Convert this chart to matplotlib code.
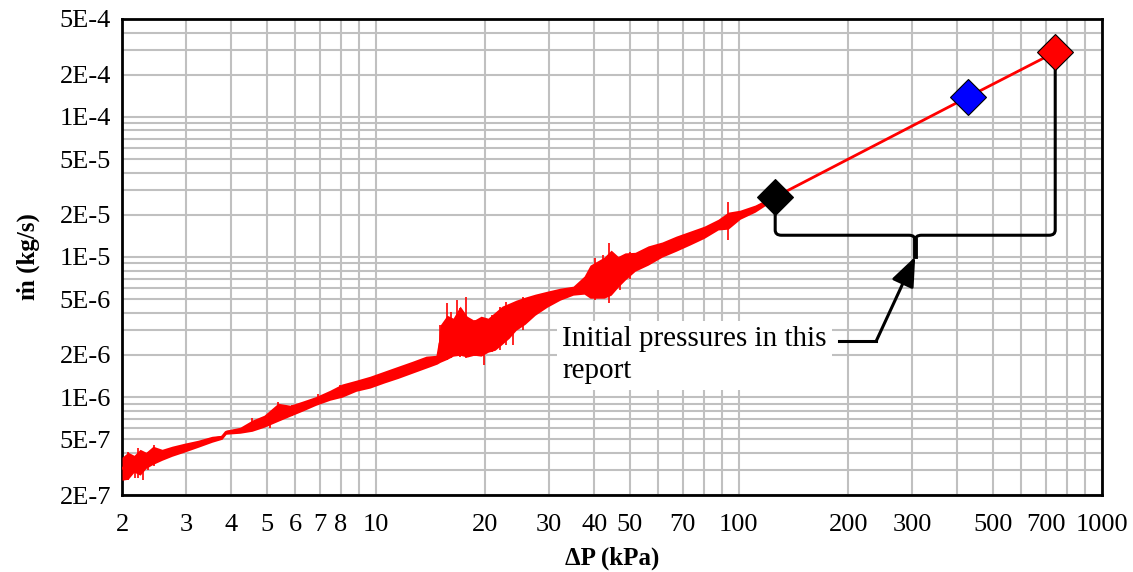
import numpy as np
import matplotlib
matplotlib.use('Agg')
import matplotlib.pyplot as plt
from matplotlib.ticker import LogLocator, NullFormatter
from matplotlib.path import Path
from matplotlib.patches import PathPatch

plt.rcParams['font.family'] = ['Liberation Serif', 'DejaVu Serif']

# pressure drop (kPa) along the measured trace
dp = [2.000, 2.078, 2.159, 2.243, 2.329, 2.435, 2.578, 2.746, 2.964, 3.239,
      3.539, 3.771, 3.868, 4.227, 4.562, 4.923, 5.380, 5.805, 6.266, 6.846,
      7.482, 8.075, 8.825, 9.643, 10.54, 11.52, 12.59, 13.76, 14.75, 15.03,
      15.72, 16.33, 17.07, 17.84, 18.65, 19.50, 20.38, 21.31, 22.28, 23.29,
      24.35, 25.78, 27.47, 29.64, 32.19, 34.96, 37.48, 38.93, 40.70, 42.55,
      44.48, 46.49, 48.60, 51.80, 56.24, 61.47, 67.20, 73.45, 80.28, 87.69,
      93.43, 100.8, 110.9, 125.9]
# mass flow rate (kg/s): mean trace and the upper/lower edge of the noise
mdot = [3.10e-7, 3.21e-7, 3.37e-7, 3.48e-7, 3.60e-7, 3.72e-7, 3.91e-7, 4.11e-7, 4.38e-7, 4.68e-7,
        5.00e-7, 5.17e-7, 5.61e-7, 5.80e-7, 6.19e-7, 6.72e-7, 7.30e-7, 7.92e-7, 8.61e-7, 9.34e-7,
        1.01e-6, 1.10e-6, 1.20e-6, 1.28e-6, 1.39e-6, 1.48e-6, 1.61e-6, 1.75e-6, 1.83e-6, 2.42e-6,
        2.59e-6, 2.72e-6, 2.86e-6, 2.72e-6, 2.77e-6, 2.81e-6, 2.86e-6, 3.00e-6, 3.21e-6, 3.54e-6,
        3.78e-6, 4.17e-6, 4.53e-6, 5.00e-6, 5.43e-6, 5.80e-6, 6.19e-6, 6.61e-6, 6.95e-6, 7.30e-6,
        7.67e-6, 8.19e-6, 8.61e-6, 9.34e-6, 1.01e-5, 1.12e-5, 1.24e-5, 1.36e-5, 1.51e-5, 1.69e-5,
        1.80e-5, 1.99e-5, 2.23e-5, 2.68e-5]
mdot_hi = [3.72e-7, 4.04e-7, 3.84e-7, 4.24e-7, 4.04e-7, 4.46e-7, 4.24e-7, 4.46e-7, 4.68e-7, 4.92e-7,
           5.25e-7, 5.34e-7, 5.80e-7, 6.09e-7, 6.84e-7, 7.42e-7, 9.04e-7, 8.75e-7, 9.34e-7, 1.01e-6,
           1.12e-6, 1.24e-6, 1.32e-6, 1.41e-6, 1.53e-6, 1.66e-6, 1.80e-6, 1.96e-6, 1.99e-6, 3.26e-6,
           3.84e-6, 3.66e-6, 4.46e-6, 3.78e-6, 3.54e-6, 3.78e-6, 3.66e-6, 4.04e-6, 4.46e-6, 4.68e-6,
           4.92e-6, 5.17e-6, 5.43e-6, 5.70e-6, 5.99e-6, 6.19e-6, 7.30e-6, 8.75e-6, 9.34e-6, 9.98e-6,
           1.12e-5, 1.01e-5, 1.07e-5, 1.08e-5, 1.20e-5, 1.28e-5, 1.41e-5, 1.53e-5, 1.66e-5, 1.86e-5,
           2.09e-5, 2.16e-5, 2.35e-5, 2.77e-5]
mdot_lo = [2.55e-7, 2.59e-7, 2.91e-7, 2.77e-7, 3.10e-7, 3.31e-7, 3.54e-7, 3.78e-7, 4.04e-7, 4.38e-7,
           4.76e-7, 5.00e-7, 5.43e-7, 5.52e-7, 5.70e-7, 6.09e-7, 6.72e-7, 7.30e-7, 7.92e-7, 8.75e-7,
           9.50e-7, 9.98e-7, 1.10e-6, 1.16e-6, 1.26e-6, 1.36e-6, 1.48e-6, 1.61e-6, 1.72e-6, 1.77e-6,
           1.86e-6, 1.96e-6, 1.99e-6, 1.93e-6, 1.99e-6, 1.96e-6, 2.09e-6, 2.16e-6, 2.38e-6, 2.63e-6,
           3.00e-6, 3.31e-6, 3.84e-6, 4.38e-6, 4.92e-6, 5.34e-6, 5.43e-6, 5.08e-6, 5.08e-6, 5.08e-6,
           5.34e-6, 6.09e-6, 6.84e-6, 7.92e-6, 8.75e-6, 9.98e-6, 1.10e-5, 1.22e-5, 1.36e-5, 1.56e-5,
           1.58e-5, 1.86e-5, 2.09e-5, 2.59e-5]

# single spikes in the signal
spike_dp = [2.078, 2.172, 2.214, 2.285, 2.359, 2.450, 4.562, 5.110, 5.380, 5.880,
            6.934, 7.970, 8.769, 15.03, 15.72, 16.12, 16.75, 17.07, 17.73, 18.77,
            19.87, 20.91, 22.00, 22.85, 23.88, 25.45, 40.19, 42.28, 43.92, 47.10,
            50.19, 93.43]
spike_hi = [4.04e-7, 3.72e-7, 4.31e-7, 3.84e-7, 4.04e-7, 4.53e-7, 7.06e-7, 7.18e-7, 9.19e-7, 8.75e-7,
            1.05e-6, 1.22e-6, 1.26e-6, 3.26e-6, 4.68e-6, 4.04e-6, 4.92e-6, 4.31e-6, 5.17e-6, 3.54e-6,
            3.54e-6, 3.84e-6, 4.38e-6, 4.76e-6, 4.31e-6, 5.17e-6, 9.81e-6, 1.03e-5, 1.26e-5, 9.81e-6,
            1.08e-5, 2.46e-5]
spike_lo = [2.55e-7, 2.63e-7, 2.63e-7, 2.55e-7, 3.00e-7, 3.21e-7, 5.70e-7, 5.99e-7, 6.72e-7, 7.30e-7,
            8.89e-7, 9.98e-7, 1.08e-6, 1.77e-6, 1.83e-6, 1.90e-6, 1.96e-6, 1.93e-6, 1.90e-6, 1.96e-6,
            1.69e-6, 2.09e-6, 2.16e-6, 2.35e-6, 2.35e-6, 3.00e-6, 4.92e-6, 5.17e-6, 4.68e-6, 5.80e-6,
            6.95e-6, 1.32e-5]

# initial pressure points
pt_dp = [125.9, 428.2, 743.5]
pt_mdot = [2.68e-5, 1.39e-4, 2.90e-4]
pt_colors = ['black', 'blue', 'red']

x_ticks = [2, 3, 4, 5, 6, 7, 8, 10, 20, 30, 40, 50, 70, 100, 200, 300, 500, 700, 1000]
x_labels = [str(v) for v in x_ticks]
y_ticks = [5e-4, 2e-4, 1e-4, 5e-5, 2e-5, 1e-5, 5e-6, 2e-6, 1e-6, 5e-7, 2e-7]
y_labels = ['5E-4', '2E-4', '1E-4', '5E-5', '2E-5', '1E-5', '5E-6', '2E-6', '1E-6', '5E-7', '2E-7']

fig, ax = plt.subplots(figsize=(11.33, 5.72), dpi=100)
fig.subplots_adjust(left=0.1077, right=0.9726, top=0.9668, bottom=0.1346)
ax.set_xscale('log')
ax.set_yscale('log')
ax.set_xlim(2, 1000)
ax.set_ylim(2e-7, 5e-4)

ax.set_xticks(x_ticks, x_labels)
ax.set_yticks(y_ticks, y_labels)
for axis in (ax.xaxis, ax.yaxis):
    axis.set_minor_locator(LogLocator(base=10, subs=np.arange(2, 10), numticks=50))
    axis.set_minor_formatter(NullFormatter())
ax.grid(which='both', color='#c0c0c0', lw=1.5)
ax.set_axisbelow(True)
ax.tick_params(which='both', length=0, labelsize=19)
ax.tick_params(axis='x', pad=14)
ax.tick_params(axis='y', pad=8)
for s in ax.spines.values():
    s.set_linewidth(2)

# noisy flow trace
ax.fill_between(dp, mdot_lo, mdot_hi, color='red', lw=0, zorder=3)
ax.vlines(spike_dp, spike_lo, spike_hi, color='red', lw=1.2, zorder=3)
ax.plot(dp + pt_dp[1:], mdot + pt_mdot[1:], color='red', lw=2, zorder=3)

# bracket joining the lowest and highest initial pressure
x_l, x_r = pt_dp[0], pt_dp[2]
x_m = np.sqrt(x_l * x_r)
y_bar, y_tip = 1.43e-5, 1.02e-5
rx, ry = 1.04, 1.09
verts = [(x_l, pt_mdot[0]), (x_l, y_bar * ry), (x_l, y_bar), (x_l * rx, y_bar),
         (x_m / rx, y_bar), (x_m, y_bar), (x_m, y_bar / ry), (x_m, y_tip),
         (x_r, pt_mdot[2]), (x_r, y_bar * ry), (x_r, y_bar), (x_r / rx, y_bar),
         (x_m * rx, y_bar), (x_m, y_bar), (x_m, y_bar / ry)]
codes = [Path.MOVETO, Path.LINETO, Path.CURVE3, Path.CURVE3,
         Path.LINETO, Path.CURVE3, Path.CURVE3, Path.LINETO,
         Path.MOVETO, Path.LINETO, Path.CURVE3, Path.CURVE3,
         Path.LINETO, Path.CURVE3, Path.CURVE3]
ax.add_patch(PathPatch(Path(verts, codes), facecolor='none', edgecolor='black',
                       lw=2.2, transform=ax.transData, zorder=4))
ax.plot([x_m, x_m], [y_bar / ry, y_tip], color='black', lw=3.5, zorder=4)

for x, y, c in zip(pt_dp, pt_mdot, pt_colors):
    ax.plot(x, y, marker='D', ms=18, color=c, mec='black', mew=0.8, zorder=5)

# callout
ax.text(32.6, 3.2e-6, 'Initial pressures in this\nreport', fontsize=21,
        ha='left', va='top', linespacing=1.3, zorder=4,
        bbox=dict(facecolor='white', edgecolor='none', pad=4))
ax.plot([188.9, 238.9], [2.51e-6, 2.51e-6], color='black', lw=2.2, zorder=4)
ax.annotate('', xy=(x_m, y_tip * 0.985), xytext=(238.9, 2.51e-6), zorder=4,
            arrowprops=dict(arrowstyle='-|>,head_length=0.45,head_width=0.18',
                            color='black', lw=2.2, mutation_scale=40,
                            shrinkA=0, shrinkB=0))

ax.set_xlabel('ΔP (kPa)', fontsize=18, fontweight='bold', labelpad=7)
ax.set_ylabel('ṁ (kg/s)', fontsize=18, fontweight='bold', labelpad=14)

fig.savefig('out.png', dpi=100)
